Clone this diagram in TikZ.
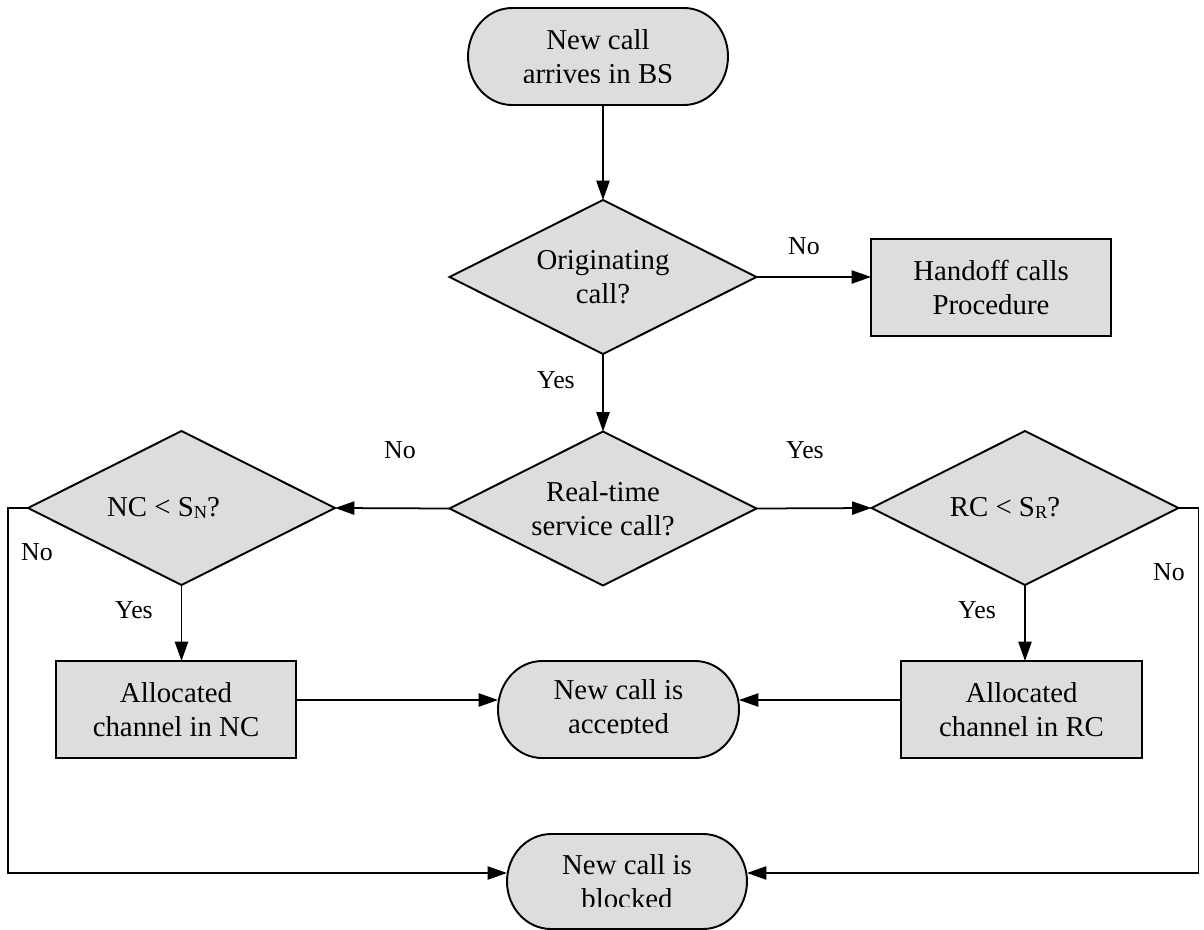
\documentclass[tikz,border=0pt]{standalone}
\usepackage{fontspec}
\setmainfont{Liberation Serif}
\usetikzlibrary{arrows.meta,calc}
\definecolor{shapefill}{RGB}{221,221,221}
\newcommand\pxlen{0.02cm}
\tikzset{
  flowline/.style={line width=1pt},
  arr/.style={flowline,-{Triangle[length=11pt,width=7.5pt]}},
  anchorbox/.style={draw=none,inner sep=0,outer sep=0,shape=rectangle},
  shapeline/.style={draw,fill=shapefill,line width=1.1pt,line join=miter},
  maintext/.style={font=\fontsize{16.4}{19.3}\selectfont,align=center,inner sep=0},
  tag/.style={font=\fontsize{14.7}{17}\selectfont,inner sep=0,anchor=base},
}
% stadium outline around an anchor box: #1 name, #2 vertical radius
\newcommand\stadium[2]{%
  \draw[shapeline] ($(#1.north west)+(44,0)$) -- ($(#1.north east)+(-44,0)$)
    arc[start angle=90,end angle=-90,x radius=0.88cm,y radius=#2]
    -- ($(#1.south west)+(44,0)$)
    arc[start angle=270,end angle=90,x radius=0.88cm,y radius=#2] -- cycle;}
% diamond outline through the four side anchors of an anchor box
\newcommand\decision[1]{%
  \draw[shapeline] (#1.north) -- (#1.east) -- (#1.south) -- (#1.west) -- cycle;}
\newcommand\sub[1]{\raisebox{-1.2pt}{\fontsize{10.5}{12}\selectfont #1}}
\begin{document}
\begin{tikzpicture}[x=0.02cm,y=-0.02cm]
\useasboundingbox (0,0) rectangle (1204,930);

% anchor boxes
\node[anchorbox,minimum width=260*\pxlen,minimum height=97*\pxlen] (start) at (598,56.5) {};
\node[anchorbox,minimum width=307*\pxlen,minimum height=154*\pxlen] (orig) at (603,277) {};
\node[anchorbox,minimum width=240*\pxlen,minimum height=97*\pxlen] (hand) at (991,287.5) {};
\node[anchorbox,minimum width=307*\pxlen,minimum height=154*\pxlen] (rt) at (603,508.5) {};
\node[anchorbox,minimum width=307*\pxlen,minimum height=154*\pxlen] (nc) at (181.5,508) {};
\node[anchorbox,minimum width=307*\pxlen,minimum height=154*\pxlen] (rc) at (1025,508) {};
\node[anchorbox,minimum width=240*\pxlen,minimum height=97*\pxlen] (ncbox) at (176,709.5) {};
\node[anchorbox,minimum width=241*\pxlen,minimum height=97*\pxlen] (acc) at (618.5,709.5) {};
\node[anchorbox,minimum width=241*\pxlen,minimum height=97*\pxlen] (rcbox) at (1021.5,709.5) {};
\node[anchorbox,minimum width=240*\pxlen,minimum height=95*\pxlen] (blk) at (627,881.5) {};

% outlines
\stadium{start}{0.97cm}
\stadium{acc}{0.97cm}
\stadium{blk}{0.95cm}
\decision{orig}
\decision{rt}
\decision{nc}
\decision{rc}
\draw[shapeline] (hand.north west) rectangle (hand.south east);
\draw[shapeline] (ncbox.north west) rectangle (ncbox.south east);
\draw[shapeline] (rcbox.north west) rectangle (rcbox.south east);

% texts
\begin{scope}
  \clip (440,0) rectangle (760,82);
  \node[maintext] at (start.center) {New call\\arrives in BS};
\end{scope}
\begin{scope}
  \clip (480,650) rectangle (760,733);
  \node[maintext] at (acc.center) {New call is\\accepted};
\end{scope}
\begin{scope}
  \clip (490,820) rectangle (770,906);
  \node[maintext] at (blk.center) {New call is\\blocked};
\end{scope}
\node[maintext] at (orig.center) {Originating\\call?};
\node[maintext] at (rt.center) {Real-time\\service call?};
\node[maintext] at ($(nc.center)+(-18,0)$) {NC < S\sub{N}?};
\node[maintext] at ($(rc.center)+(-20,0)$) {RC < S\sub{R}?};
\node[maintext] at (hand.center) {Handoff calls\\Procedure};
\node[maintext] at (ncbox.center) {Allocated\\channel in NC};
\node[maintext] at (rcbox.center) {Allocated\\channel in RC};

% connectors
\draw[arr] (orig.north |- start.south) -- (orig.north);
\draw[arr] (orig.east) -- (orig.east -| hand.west);
\draw[arr] (orig.south) -- (rt.north);
\draw[arr] (rt.west) -- (nc.east);
\draw[arr] (rt.east) -- (rc.west);
\draw[arr] (nc.south) -- (nc.south |- ncbox.north);
\draw[arr] (rc.south) -- (rc.south |- rcbox.north);
\draw[arr] ($(ncbox.east)+(0,-9.5)$) -- ($(acc.west)+(0,-9.5)$);
\draw[arr] ($(rcbox.west)+(0,-9.5)$) -- ($(acc.east)+(0,-9.5)$);
\draw[arr] (nc.west) -- ++(-20,0) |- ($(blk.west)+(0,-8.5)$);
\draw[arr] (rc.east) -- ++(20,0) |- ($(blk.east)+(0,-8.5)$);

% branch labels
\node[tag] (l1) at (804,254) {No};
\node[tag] (l2) at (556,388) {Yes};
\node[tag] (l3) at (400,458) {No};
\node[tag] (l4) at (805,458) {Yes};
\node[tag] (l5) at (37,560) {No};
\node[tag] (l6) at (1169,580) {No};
\node[tag] (l7) at (134,618) {Yes};
\node[tag] (l8) at (977,618) {Yes};
\end{tikzpicture}
\end{document}
